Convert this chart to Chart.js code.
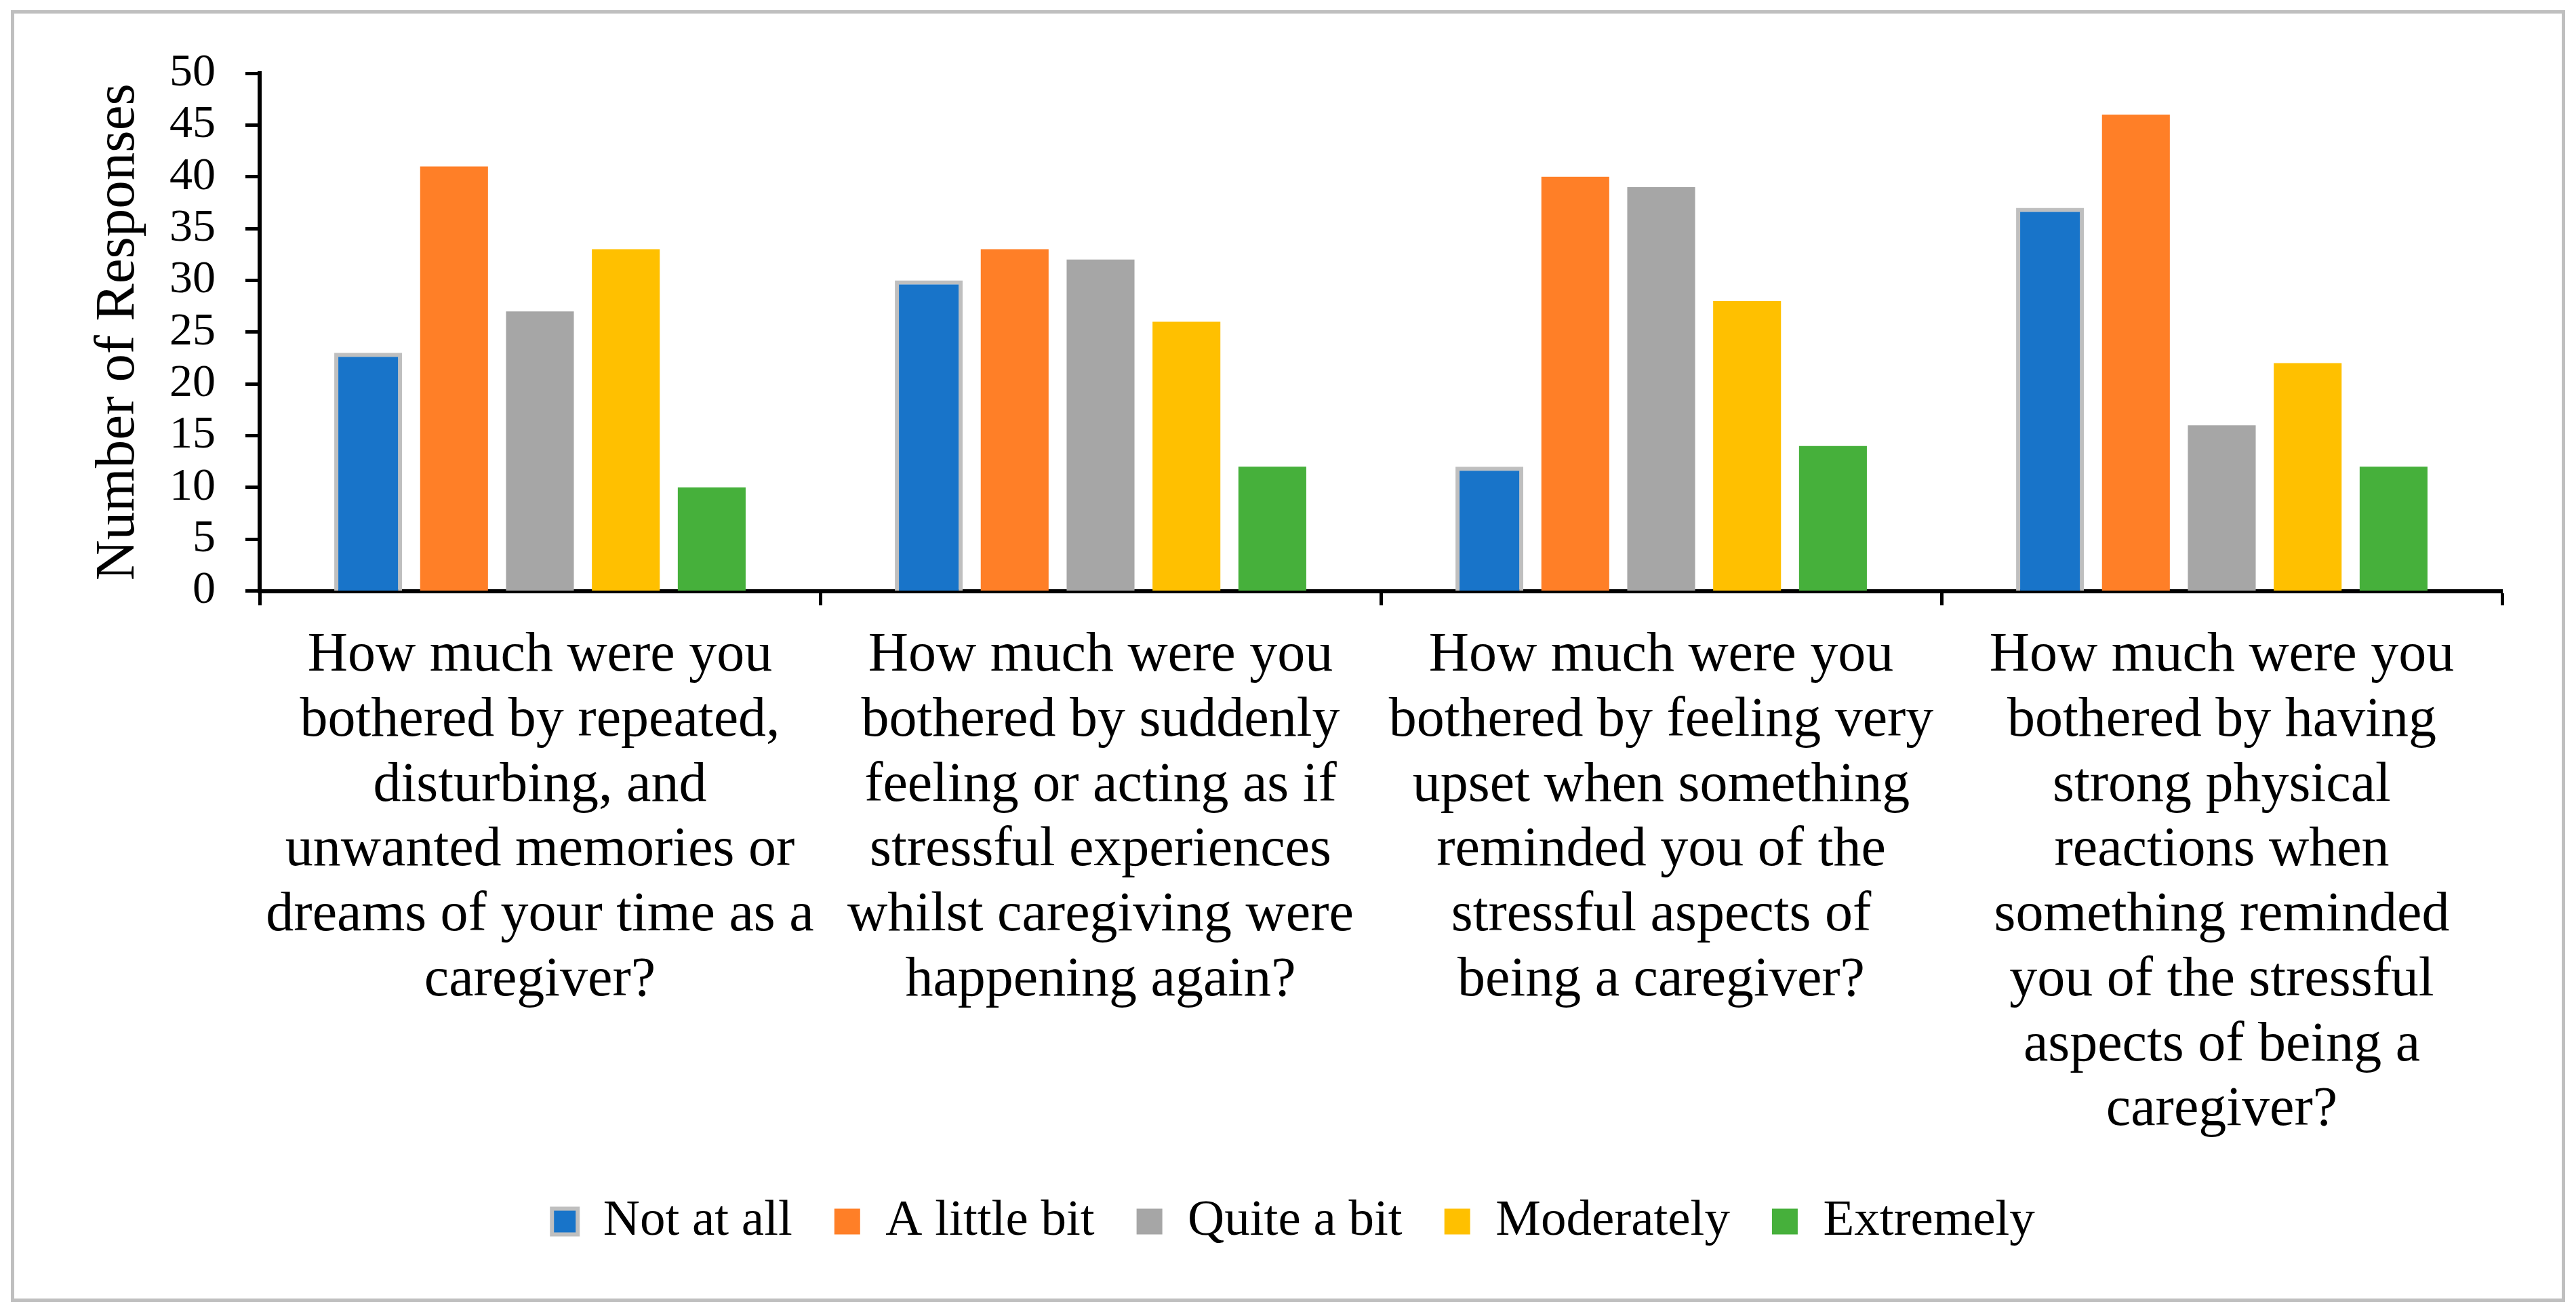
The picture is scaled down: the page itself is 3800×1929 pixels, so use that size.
<!DOCTYPE html>
<html>
<head>
<meta charset="utf-8">
<script src="https://cdn.jsdelivr.net/npm/chart.js@4.4.0/dist/chart.umd.min.js"></script>
<style>
  html, body { margin: 0; padding: 0; background: #fff; overflow: hidden; }
  #frame {
    position: absolute; left: 16px; top: 15px;
    width: 3768px; height: 1905px;
    border: 5px solid #bfbfbf; box-sizing: border-box; background: #fff;
  }
  #wrap { position: absolute; left: 0; top: 0; width: 3758px; height: 1895px; }
</style>
</head>
<body>
<div id="frame"><div id="wrap"><canvas id="responsesChart"></canvas></div></div>
<script>
// question labels, already broken into lines as in the original
const categories = [
  ["How much were you", "bothered by repeated,", "disturbing, and", "unwanted memories or", "dreams of your time as a", "caregiver?"],
  ["How much were you", "bothered by suddenly", "feeling or acting as if", "stressful experiences", "whilst caregiving were", "happening again?"],
  ["How much were you", "bothered by feeling very", "upset when something", "reminded you of the", "stressful aspects of", "being a caregiver?"],
  ["How much were you", "bothered by having", "strong physical", "reactions when", "something reminded", "you of the stressful", "aspects of being a", "caregiver?"]
];

const seriesNames = ["Not at all", "A little bit", "Quite a bit", "Moderately", "Extremely"];
const notAtAll = [23, 30, 12, 37];
const aLittleBit = [41, 33, 40, 46];
const quiteABit = [27, 32, 39, 16];
const moderately = [33, 26, 28, 22];
const extremely = [10, 12, 14, 12];

const yTicks = { min: 0, max: 50, step: 5 };

const colors = ["#1874c9", "#ff7f27", "#a6a6a6", "#ffc000", "#46b03b"];
const serif = "'Liberation Serif', 'Times New Roman', serif";

const values = [notAtAll, aLittleBit, quiteABit, moderately, extremely];

const ctx = document.getElementById("responsesChart").getContext("2d");
new Chart(ctx, {
  type: "bar",
  data: {
    labels: categories,
    datasets: values.map((v, i) => ({
      label: seriesNames[i],
      data: v,
      backgroundColor: colors[i],
      borderColor: i === 0 ? "#bfbfbf" : colors[i],
      borderWidth: i === 0 ? 6 : 0,
      categoryPercentage: 0.766,
      barPercentage: 0.79,
    })),
  },
  options: {
    responsive: true,
    maintainAspectRatio: false,
    animation: false,
    layout: { padding: { top: 88, left: 104, right: 88, bottom: 66 } },
    plugins: {
      tooltip: { enabled: false },
      legend: {
        position: "bottom",
        labels: {
          color: "#000",
          font: { family: serif, size: 75 },
          boxWidth: 38,
          boxHeight: 38,
          padding: 62,
        },
      },
    },
    scales: {
      x: {
        grid: { offset: true, drawOnChartArea: false, drawTicks: true, tickLength: 21, tickWidth: 5, color: "#000" },
        border: { display: true, color: "#000", width: 6 },
        ticks: {
          color: "#000",
          font: { family: serif, size: 82, lineHeight: 1.167 },
          padding: 27.5,
          autoSkip: false,
          maxRotation: 0,
          minRotation: 0,
        },
        afterFit: scale => { scale.height = 830.5; },
      },
      y: {
        min: yTicks.min,
        max: yTicks.max,
        grid: { drawOnChartArea: false, drawTicks: true, tickLength: 21, tickWidth: 5, color: "#000" },
        border: { display: true, color: "#000", width: 6 },
        ticks: {
          stepSize: yTicks.step,
          autoSkip: false,
          color: "#000",
          font: { family: serif, size: 68 },
          padding: 44,
        },
        title: {
          display: true,
          text: "Number of Responses",
          color: "#000",
          font: { family: serif, size: 83, lineHeight: 1.2 },
          padding: { top: 0, bottom: 0 },
        },
        afterFit: scale => { scale.width = 258; },
      },
    },
  },
});
</script>
</body>
</html>
